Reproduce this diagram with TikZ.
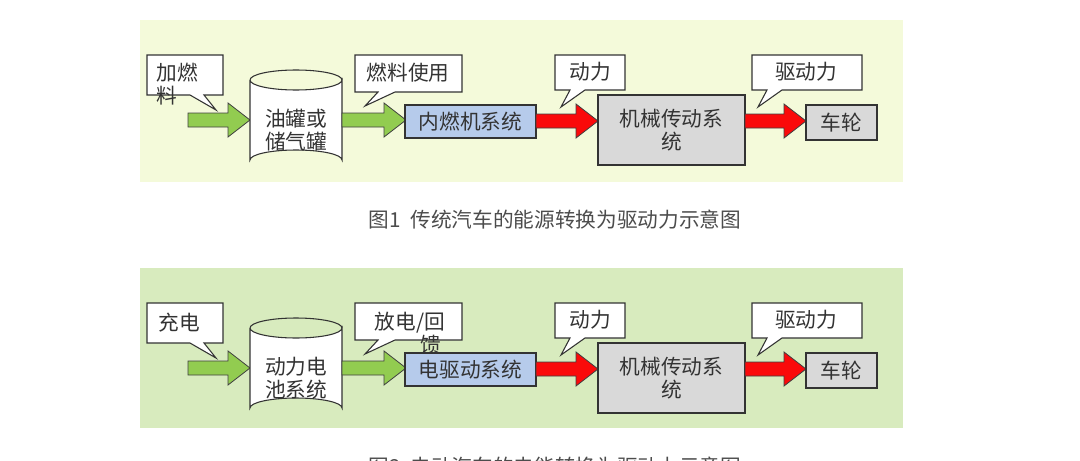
\documentclass[tikz,border=0pt]{standalone}
\usepackage{fontspec}
\setmainfont{Noto Sans CJK SC}
\usetikzlibrary{positioning}
\definecolor{bgone}{RGB}{244,250,218}
\definecolor{bgtwo}{RGB}{216,235,190}
\definecolor{arrgreen}{RGB}{146,204,80}
\definecolor{arrred}{RGB}{250,10,10}
\definecolor{boxblue}{RGB}{182,203,235}
\definecolor{boxgray}{RGB}{217,217,217}
\tikzset{
  txt/.style={font=\fontsize{15.5}{17.5}\selectfont, text=black!80},
  blk/.style={draw=black!80, line width=0.8pt, txt, inner sep=0pt, align=center},
}
% flow arrow: x1, x2, y, colour
\newcommand{\flowarrow}[4]{%
  \draw[black!75, line width=0.6pt, fill=#4] (#1,#3-7) -- (#2-22,#3-7) -- (#2-22,#3-17) -- (#2,#3) -- (#2-22,#3+17) -- (#2-22,#3+7) -- (#1,#3+7) -- cycle;}
% callout: x1, y1, x2, y2, tail base left, tail base right, tip
\newcommand{\bubble}[7]{%
  \draw[black!80, line width=0.8pt, fill=white] (#1,#2) -- (#3,#2) -- (#3,#4) -- (#6,#4) -- (#7) -- (#5,#4) -- (#1,#4) -- cycle;}
\begin{document}
\begin{tikzpicture}[x=0.75pt,y=0.75pt,yscale=-1,xscale=1]
\useasboundingbox (0,0) rectangle (1080,460);
\clip (0,0) rectangle (1080,460);

%% panel 1
\fill[bgone] (140,20) rectangle (903,182);
\bubble{147}{55}{223}{95}{190}{204}{216,110}
\node[txt, anchor=north west, align=left] (fuelin) at (152,58) {加燃\\料};
\flowarrow{188}{250}{120}{arrgreen}
% tank
\draw[black!80, line width=0.8pt, fill=white] (250,80) -- (250,160) arc[start angle=180, end angle=360, x radius=46, y radius=10] -- (342,80) arc[start angle=0, end angle=180, x radius=46, y radius=10];
\draw[black!80, line width=0.8pt] (250,80) arc[start angle=180, end angle=360, x radius=46, y radius=10];
\node[txt, align=center] (tank) at (296,130) {油罐或\\储气罐};
\flowarrow{342}{406}{120}{arrgreen}
\bubble{355}{55}{462}{92}{378}{395}{365,106}
\node[txt] (fueluse) at (408,73) {燃料使用};
\node[blk, fill=boxblue, minimum width=98.25pt, minimum height=24.75pt] (engine) at (470.5,121.5) {内燃机系统};
\flowarrow{536}{598}{121}{arrred}
\bubble{555}{55}{625}{90}{570}{585}{561,107}
\node[txt] (power) at (590,72) {动力};
\node[blk, fill=boxgray, minimum width=110.25pt, minimum height=52.5pt] (gear) at (671.5,130) {机械传动系\\统};
\flowarrow{745}{806}{121}{arrred}
\bubble{752}{55}{862}{90}{767}{782}{758,107}
\node[txt] (drive) at (806,72) {驱动力};
\node[blk, fill=boxgray, minimum width=53.25pt, minimum height=26.25pt] (wheel) at (841.5,122.5) {车轮};
\node[txt, text=black!70] (capone) at (555,220) {图1\ \ 传统汽车的能源转换为驱动力示意图};

%% panel 2
\fill[bgtwo] (140,268) rectangle (903,428);
\bubble{147}{303}{223}{343}{190}{204}{216,358}
\node[txt] (charge) at (179,323) {充电};
\flowarrow{188}{250}{368}{arrgreen}
% battery
\draw[black!80, line width=0.8pt, fill=white] (250,328) -- (250,408) arc[start angle=180, end angle=360, x radius=46, y radius=10] -- (342,328) arc[start angle=0, end angle=180, x radius=46, y radius=10];
\draw[black!80, line width=0.8pt] (250,328) arc[start angle=180, end angle=360, x radius=46, y radius=10];
\node[txt, align=center] (battery) at (296,378) {动力电\\池系统};
\flowarrow{342}{406}{368}{arrgreen}
\bubble{355}{303}{462}{340}{378}{395}{365,354}
\node[txt, anchor=north west, align=left] (discharge) at (370,307) {放电/回\\\hspace*{2.2em}馈};
\node[blk, fill=boxblue, minimum width=98.25pt, minimum height=24.75pt] (motor) at (470.5,369.5) {电驱动系统};
\flowarrow{536}{598}{369}{arrred}
\bubble{555}{303}{625}{338}{570}{585}{561,355}
\node[txt] (powertwo) at (590,320) {动力};
\node[blk, fill=boxgray, minimum width=110.25pt, minimum height=52.5pt] (geartwo) at (671.5,378) {机械传动系\\统};
\flowarrow{745}{806}{369}{arrred}
\bubble{752}{303}{862}{338}{767}{782}{758,355}
\node[txt] (drivetwo) at (806,320) {驱动力};
\node[blk, fill=boxgray, minimum width=53.25pt, minimum height=26.25pt] (wheeltwo) at (841.5,370.5) {车轮};
\node[txt, text=black!70] (captwo) at (555,467) {图2\ \ 电动汽车的电能转换为驱动力示意图};
\end{tikzpicture}
\end{document}
